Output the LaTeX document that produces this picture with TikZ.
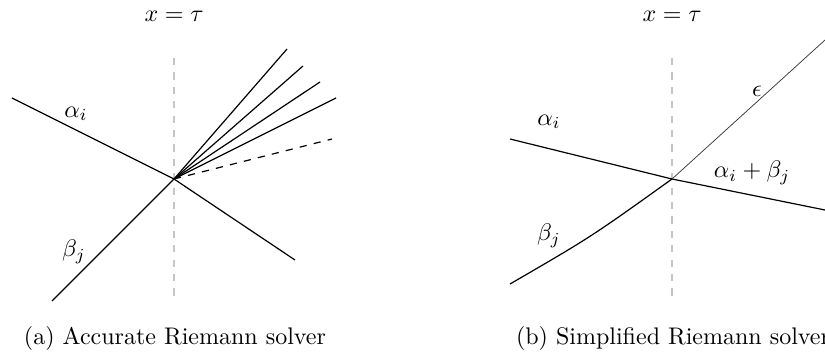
\documentclass[tikz,border=0pt]{standalone}
\usepackage{amsmath,amssymb}
\usetikzlibrary{positioning}
\begin{document}
\begin{tikzpicture}[x=0.4165pt,y=-0.4165pt,
      wave/.style={line width=0.5pt,black},
      thinwave/.style={line width=0.3pt,black!80},
      axis/.style={dashed,gray!45,line width=0.5pt},
      lbl/.style={inner sep=1pt}]
    \useasboundingbox (0,0) rectangle (825,358);
    % (a) accurate solver
    \coordinate (c1) at (174,179);
    \coordinate (top1) at (174,58);
    \coordinate (bot1) at (174,301);
    \coordinate (ain1) at (12,98);
    \coordinate (aout1) at (295,260);
    \coordinate (bin1) at (52,301);
    \coordinate (dsh1) at (332,139);
    \draw[axis] (top1) -- (bot1);
    \draw[wave] (ain1) -- (c1) -- (aout1);
    \draw[wave] (bin1) -- (c1);
    \foreach \x/\y [count=\i] in {287/49,303/66,320/82,336/98}{
      \coordinate (fan\i) at (\x,\y);
      \draw[wave] (c1) -- (fan\i);
    }
    \draw[wave,dashed] (c1) -- (dsh1);
    \node[lbl] (alpha1) at (76,114) {$\alpha_i$};
    \node[lbl] (beta1) at (74,252) {$\beta_j$};
    \node (tau1) at (174,16) {$x=\tau$};
    \node (cap1) at (175,338) {(a) Accurate Riemann solver};
    % (b) simplified solver
    \coordinate (c2) at (672,179);
    \coordinate (top2) at (672,58);
    \coordinate (bot2) at (672,301);
    \coordinate (ain2) at (510,139);
    \coordinate (aout2) at (825,210);
    \coordinate (bin2) at (510,284);
    \coordinate (eps2) at (825,40);
    \draw[axis] (top2) -- (bot2);
    \draw[wave] (ain2) -- (c2) -- (aout2);
    \draw[wave] (bin2) .. controls (591,237) .. (c2);
    \draw[thinwave] (c2) -- (eps2);
    \node[lbl] (alpha2) at (549,122) {$\alpha_i$};
    \node[lbl] (beta2) at (549,236) {$\beta_j$};
    \node[lbl] (sum2) at (752,173) {$\alpha_i+\beta_j$};
    \node[lbl] (epsl2) at (757,91) {$\epsilon$};
    \node (tau2) at (672,16) {$x=\tau$};
    \node (cap2) at (673,338) {(b) Simplified Riemann solver};
\end{tikzpicture}
\end{document}
